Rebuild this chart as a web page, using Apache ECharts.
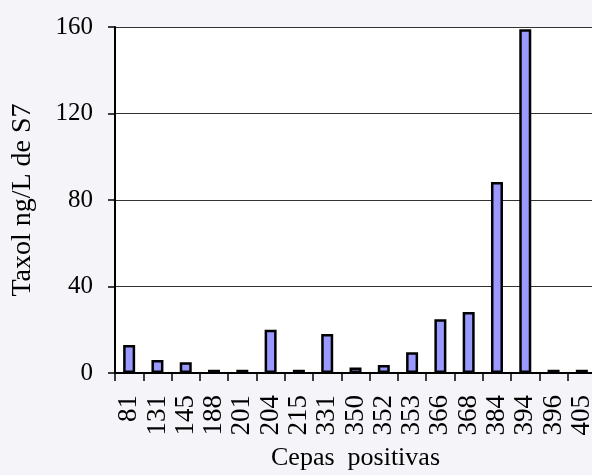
<!DOCTYPE html>
<html>
<head>
<meta charset="utf-8">
<script src="https://cdn.jsdelivr.net/npm/echarts@6/dist/echarts.min.js"></script>
<style>
  html, body { margin: 0; padding: 0; background: #f4f4f9; }
  #main { width: 592px; height: 475px; }
</style>
</head>
<body>
<div id="main"></div>
<script>
// cepas (strains) and taxol concentration
var cepas = ['81', '131', '145', '188', '201', '204', '215', '331', '350', '352', '353', '366', '368', '384', '394', '396', '405']
var taxol = [13, 6, 5, 1.5, 1.5, 20, 1.5, 18, 2.5, 3.7, 9.6, 24.8, 28.2, 88.3, 159, 1.5, 1.5]
var yTicks = [0, 40, 80, 120, 160]

var font = 'Liberation Serif, Times New Roman, serif'
var chart = echarts.init(document.getElementById('main'))

var option = {
    backgroundColor: '#f4f4f9',
    animation: false,
    textStyle: { fontFamily: font, color: '#000' },
    grid: {
        left: 115,
        right: -4,
        top: 27,
        bottom: 102,
        outerBoundsMode: 'none',
        show: true,
        backgroundColor: '#fff',
        borderWidth: 0
    },
    xAxis: {
        type: 'category',
        data: cepas,
        name: 'Cepas  positivas',
        nameLocation: 'middle',
        nameGap: 72,
        nameTextStyle: { fontFamily: font, fontSize: 26, color: '#000' },
        axisLine: { lineStyle: { color: '#000', width: 2 } },
        axisTick: { show: true, length: 8, lineStyle: { color: '#000', width: 1.5 } },
        axisLabel: {
            rotate: 90,
            margin: 22,
            interval: 0,
            fontFamily: font,
            fontSize: 27,
            color: '#000'
        }
    },
    yAxis: {
        type: 'value',
        min: yTicks[0],
        max: yTicks[yTicks.length - 1],
        interval: 40,
        name: 'Taxol ng/L de S7',
        nameLocation: 'middle',
        nameGap: 78,
        nameTextStyle: { fontFamily: font, fontSize: 28, color: '#000' },
        axisLine: { show: true, lineStyle: { color: '#000', width: 2 } },
        axisTick: { show: true, length: 7, lineStyle: { color: '#000', width: 1.5 } },
        axisLabel: { margin: 22, fontFamily: font, fontSize: 25, color: '#000' },
        splitLine: { lineStyle: { color: '#333', width: 1.2 } }
    },
    series: [{
        type: 'bar',
        data: taxol,
        barWidth: 12,
        itemStyle: {
            color: '#9999ff',
            borderColor: '#000',
            borderWidth: 2.5
        }
    }]
}
chart.setOption(option)
</script>
</body>
</html>
